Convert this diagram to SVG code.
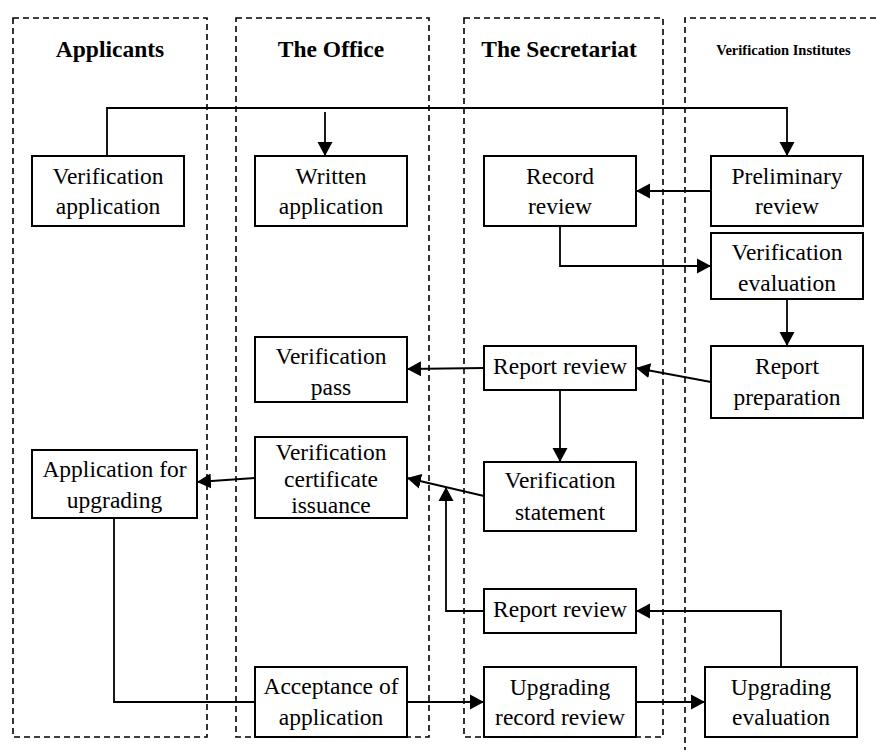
<svg xmlns="http://www.w3.org/2000/svg" width="876" height="756" viewBox="0 0 876 756">
<style>
.lane{fill:none;stroke:#000;stroke-width:1.6;stroke-dasharray:6,4}
.hdr{font-weight:bold;font-size:23.5px;text-anchor:middle;fill:#000}
.box{fill:#fff;stroke:#000;stroke-width:2}
.t{font-size:23.5px;text-anchor:middle;fill:#000}
.c{fill:none;stroke:#000;stroke-width:1.8}
.a{marker-end:url(#ah)}
</style>
<defs>
<marker id="ah" markerUnits="userSpaceOnUse" markerWidth="16" markerHeight="16" refX="14" refY="8" orient="auto">
<path d="M0,0.5 L14,8 L0,15.5 Z" fill="#000"/>
</marker>
</defs>
<g font-family="'Liberation Serif', 'Times New Roman', serif">
<g id="lanes">
<rect class="lane" x="13" y="18" width="194" height="719"/>
<rect class="lane" x="236" y="18" width="193" height="719"/>
<rect class="lane" x="464" y="18" width="199" height="719"/>
<path class="lane" d="M876,18 H685 V750"/>
<text class="hdr" x="110" y="57">Applicants</text>
<text class="hdr" x="331" y="57">The Office</text>
<text class="hdr" x="559" y="57">The Secretariat</text>
<text class="hdr" x="783.5" y="55" style="font-size:14.5px">Verification Institutes</text>
</g>
<g id="connectors">
<path class="c a" d="M107,156 V108 H787 V156"/>
<path class="c a" d="M325,112 V156"/>
<path class="c a" d="M711,191 H636"/>
<path class="c a" d="M560,226 V266 H711"/>
<path class="c a" d="M787,299 V346"/>
<path class="c a" d="M711,382 L636,368"/>
<path class="c a" d="M484,368 L407,369"/>
<path class="c a" d="M560,390 V462"/>
<path class="c a" d="M484,496 L407,478"/>
<path class="c a" d="M255,478 L197,482"/>
<path class="c a" d="M484,611 H446 V487"/>
<path class="c a" d="M781,667 V611 H636"/>
<path class="c" d="M114,518 V702 H255"/>
<path class="c a" d="M407,702 H484"/>
<path class="c a" d="M636,702 H705"/>
</g>
<g id="verification-application"><rect class="box" x="32" y="156" width="152" height="70"/><text class="t" x="108" y="184">Verification</text><text class="t" x="108" y="214">application</text></g>
<g id="written-application"><rect class="box" x="255" y="156" width="152" height="70"/><text class="t" x="331" y="184">Written</text><text class="t" x="331" y="214">application</text></g>
<g id="record-review"><rect class="box" x="484" y="156" width="152" height="70"/><text class="t" x="560" y="184">Record</text><text class="t" x="560" y="214">review</text></g>
<g id="preliminary-review"><rect class="box" x="711" y="156" width="152" height="70"/><text class="t" x="787" y="184">Preliminary</text><text class="t" x="787" y="214">review</text></g>
<g id="verification-evaluation"><rect class="box" x="711" y="233" width="152" height="66"/><text class="t" x="787" y="260">Verification</text><text class="t" x="787" y="291">evaluation</text></g>
<g id="report-preparation"><rect class="box" x="711" y="346" width="152" height="72"/><text class="t" x="787" y="374">Report</text><text class="t" x="787" y="405">preparation</text></g>
<g id="report-review-1"><rect class="box" x="484" y="346" width="152" height="44"/><text class="t" x="560" y="374">Report review</text></g>
<g id="verification-pass"><rect class="box" x="255" y="337" width="152" height="65"/><text class="t" x="331" y="364">Verification</text><text class="t" x="331" y="395">pass</text></g>
<g id="verification-statement"><rect class="box" x="484" y="462" width="152" height="69"/><text class="t" x="560" y="488">Verification</text><text class="t" x="560" y="520">statement</text></g>
<g id="verification-certificate-issuance"><rect class="box" x="255" y="437" width="152" height="81"/><text class="t" x="331" y="460">Verification</text><text class="t" x="331" y="487">certificate</text><text class="t" x="331" y="513">issuance</text></g>
<g id="application-for-upgrading"><rect class="box" x="32" y="450" width="165" height="68"/><text class="t" x="114.5" y="477">Application for</text><text class="t" x="114.5" y="508">upgrading</text></g>
<g id="report-review-2"><rect class="box" x="484" y="589" width="152" height="44"/><text class="t" x="560" y="617">Report review</text></g>
<g id="acceptance-of-application"><rect class="box" x="255" y="667" width="152" height="70"/><text class="t" x="331" y="694">Acceptance of</text><text class="t" x="331" y="725">application</text></g>
<g id="upgrading-record-review"><rect class="box" x="484" y="667" width="152" height="70"/><text class="t" x="560" y="695">Upgrading</text><text class="t" x="560" y="725">record review</text></g>
<g id="upgrading-evaluation"><rect class="box" x="705" y="667" width="152" height="70"/><text class="t" x="781" y="695">Upgrading</text><text class="t" x="781" y="725">evaluation</text></g>
</g>
</svg>
